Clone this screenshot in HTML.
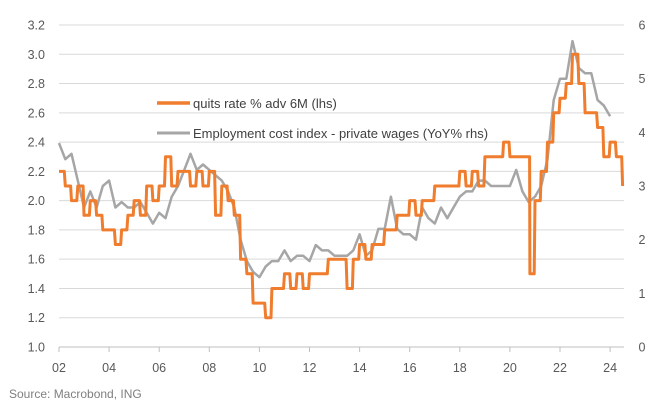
<!DOCTYPE html>
<html><head><meta charset="utf-8"><style>
body{margin:0;background:#fff;font-family:"Liberation Sans",sans-serif}
svg{display:block}
text{font-family:"Liberation Sans",sans-serif}
</style></head><body>
<svg id="c" width="662" height="408"></svg>
<script>
const lhsTicks=[1.0,1.2,1.4,1.6,1.8,2.0,2.2,2.4,2.6,2.8,3.0,3.2];
const rhsTicks=[0,1,2,3,4,5,6];
const xTickYears=[2002,2004,2006,2008,2010,2012,2014,2016,2018,2020,2022,2024];
const xTickLabels=["02","04","06","08","10","12","14","16","18","20","22","24"];
const quitsYears=[2002,2002.25,2002.5,2002.75,2003,2003.25,2003.5,2003.75,2004,2004.25,2004.5,2004.75,2005,2005.25,2005.5,2005.75,2006,2006.25,2006.5,2006.75,2007,2007.25,2007.5,2007.75,2008,2008.25,2008.5,2008.75,2009,2009.25,2009.5,2009.75,2010,2010.25,2010.5,2010.75,2011,2011.25,2011.5,2011.75,2012,2012.25,2012.5,2012.75,2013,2013.25,2013.5,2013.75,2014,2014.25,2014.5,2014.75,2015,2015.25,2015.5,2015.75,2016,2016.25,2016.5,2016.75,2017,2017.25,2017.5,2017.75,2018,2018.25,2018.5,2018.75,2019,2019.25,2019.5,2019.75,2020,2020.25,2020.5,2020.7,2020.8,2021,2021.25,2021.5,2021.75,2022,2022.25,2022.5,2022.75,2023,2023.25,2023.5,2023.75,2024,2024.25,2024.5];
const quitsValues=[2.2,2.1,2.0,2.1,1.9,2.0,1.9,1.8,1.8,1.7,1.8,1.9,2.0,1.9,2.1,2.0,2.1,2.3,2.1,2.2,2.2,2.1,2.2,2.1,2.2,1.9,2.1,2.0,1.9,1.6,1.5,1.3,1.3,1.2,1.4,1.4,1.5,1.4,1.5,1.4,1.5,1.5,1.5,1.6,1.6,1.6,1.4,1.6,1.7,1.6,1.7,1.7,1.8,1.8,1.9,1.9,2.0,1.9,2.0,2.0,2.1,2.1,2.1,2.1,2.2,2.1,2.2,2.1,2.3,2.3,2.3,2.4,2.3,2.3,2.3,2.3,1.5,2.0,2.2,2.4,2.6,2.7,2.8,3.0,2.8,2.6,2.6,2.5,2.3,2.4,2.3,2.1];
const eciYears=[2002,2002.25,2002.5,2002.75,2003,2003.25,2003.5,2003.75,2004,2004.25,2004.5,2004.75,2005,2005.25,2005.5,2005.75,2006,2006.25,2006.5,2006.75,2007,2007.25,2007.5,2007.75,2008,2008.25,2008.5,2008.75,2009,2009.25,2009.5,2009.75,2010,2010.25,2010.5,2010.75,2011,2011.25,2011.5,2011.75,2012,2012.25,2012.5,2012.75,2013,2013.25,2013.5,2013.75,2014,2014.25,2014.5,2014.75,2015,2015.25,2015.5,2015.75,2016,2016.25,2016.5,2016.75,2017,2017.25,2017.5,2017.75,2018,2018.25,2018.5,2018.75,2019,2019.25,2019.5,2019.75,2020,2020.25,2020.5,2020.75,2021,2021.25,2021.5,2021.75,2022,2022.25,2022.5,2022.75,2023,2023.25,2023.5,2023.75,2024];
const eciValues=[3.8,3.5,3.6,3.1,2.6,2.9,2.6,3.0,3.1,2.6,2.7,2.6,2.6,2.7,2.5,2.3,2.5,2.4,2.8,3.0,3.3,3.6,3.3,3.4,3.3,3.2,3.1,2.9,2.6,2.0,1.6,1.4,1.3,1.5,1.6,1.6,1.8,1.6,1.7,1.7,1.6,1.9,1.8,1.8,1.7,1.7,1.7,1.8,2.1,1.7,1.8,2.2,2.2,2.8,2.2,2.1,2.1,2.0,2.6,2.4,2.3,2.6,2.4,2.6,2.8,2.9,2.9,3.1,3.1,3.0,3.0,3.0,3.0,3.3,2.9,2.7,2.8,3.0,3.5,4.6,5.0,5.0,5.7,5.2,5.1,5.1,4.6,4.5,4.3];

const NS="http://www.w3.org/2000/svg";
const svg=document.getElementById('c');
const X0=59,PXY=25.05,YT=25,YB=347,XR=624;
const x=yr=>X0+(yr-2002)*PXY;
const yL=v=>YB-(v-1.0)/2.2*(YB-YT);
const yR=v=>YB-v/6*(YB-YT);
function mk(tag,attrs,txt){const e=document.createElementNS(NS,tag);for(const k in attrs)e.setAttribute(k,attrs[k]);if(txt!==undefined)e.textContent=txt;svg.appendChild(e);return e;}

lhsTicks.forEach(v=>{
  const g=mk('line',{x1:X0,x2:XR,y1:yL(v),y2:yL(v),stroke:v===1.0?'#bfbfbf':'#d9d9d9','stroke-width':1});
  
  
  const t=mk('text',{x:45,y:yL(v)+4.5,'text-anchor':'end','font-size':12.5,fill:'#595959'},v.toFixed(1));
  
  
});
rhsTicks.forEach(v=>{
  const t=mk('text',{x:642,y:yR(v)+4.5,'text-anchor':'middle','font-size':12.5,fill:'#595959'},String(v));
  
  
});
xTickYears.forEach((yr,i)=>{
  const tk=mk('line',{x1:x(yr),x2:x(yr),y1:YB,y2:YB+5,stroke:'#bfbfbf'});
  
  
  const t=mk('text',{x:x(yr),y:372,'text-anchor':'middle','font-size':12.5,fill:'#595959'},xTickLabels[i]);
  
  
});
const eciPts=eciYears.map((yr,i)=>x(yr).toFixed(1)+','+yR(eciValues[i]).toFixed(1)).join(' ');
const eci=mk('polyline',{points:eciPts,fill:'none',stroke:'#a6a6a6','stroke-width':2.5,'stroke-linejoin':'round'});


let qd='';
quitsYears.forEach((yr,i)=>{
  const px=x(yr).toFixed(1),py=yL(quitsValues[i]).toFixed(1);
  if(i===0){qd+='M'+px+','+py;}
  else{const dx=(x(yr)-x(quitsYears[i-1]))*0.15;qd+=' H'+(x(yr)-dx).toFixed(1)+' L'+px+','+py;}
});
const q=mk('path',{d:qd,fill:'none',stroke:'#ef7d2d','stroke-width':3,'stroke-linejoin':'round'});



const l1=mk('line',{x1:157,x2:190,y1:103,y2:103,stroke:'#ef7d2d','stroke-width':3.5});


const t1=mk('text',{x:193,y:108,'font-size':13,fill:'#404040'},'quits rate % adv 6M (lhs)');


const l2=mk('line',{x1:157,x2:190,y1:133,y2:133,stroke:'#a6a6a6','stroke-width':3});


const t2=mk('text',{x:193,y:138,'font-size':13,fill:'#404040'},'Employment cost index - private wages (YoY% rhs)');


const src=mk('text',{x:9,y:398,'font-size':12,fill:'#7f7f7f'},'Source: Macrobond, ING');


</script>
</body></html>
